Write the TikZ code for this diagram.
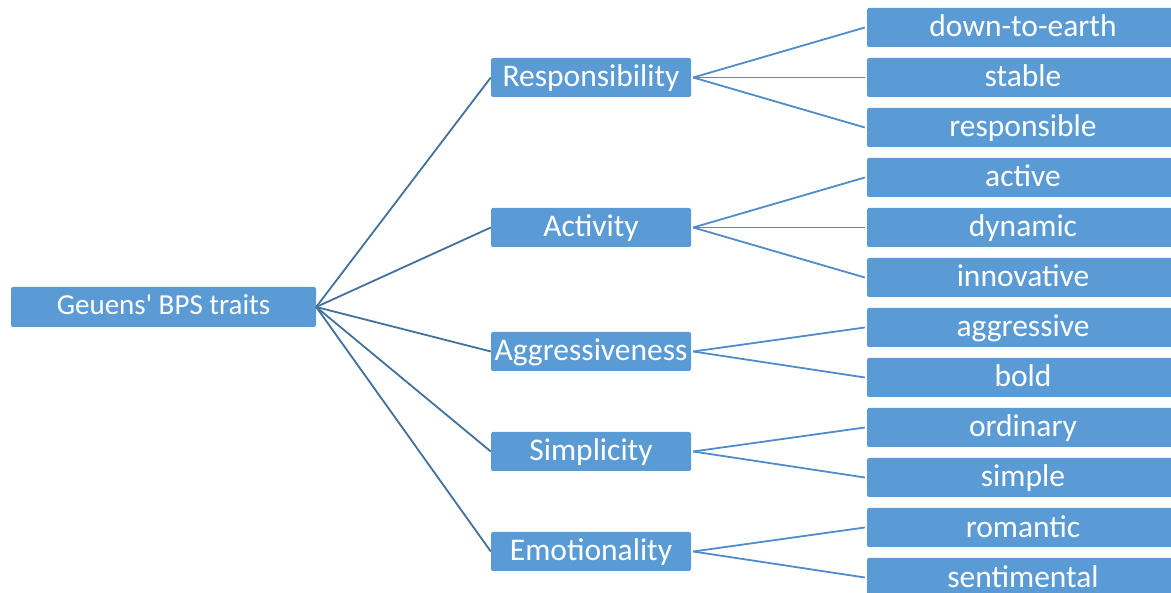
\documentclass[tikz,border=0pt]{standalone}
\usepackage{fontspec}
\setmainfont{Carlito}[Ligatures=TeXOff]
\definecolor{boxblue}{HTML}{5B9BD5}
\definecolor{rootline}{HTML}{41719C}
\definecolor{midline}{HTML}{4F8CC9}
\begin{document}
\begin{tikzpicture}[x=1pt,y=-1pt,
  box/.style={fill=boxblue,text=white,rounded corners=2pt,inner sep=0pt,font=\fontsize{31.5}{36}\selectfont,text height=24pt,text depth=5pt},
  rootbox/.style={box,minimum width=305pt,minimum height=40pt,font=\fontsize{29}{34}\selectfont,text height=22pt,text depth=6pt},
  midbox/.style={box,minimum width=200pt,minimum height=39pt},
  leafbox/.style={box,minimum width=312pt,minimum height=39pt},
  rl/.style={draw=rootline,line width=1.8pt},
  ml/.style={draw=midline,line width=1.8pt}]
\useasboundingbox (0,0) rectangle (1171,593);
\node[rootbox] (root) at (163.5,307) {Geuens' BPS traits};
\node[midbox] (m1) at (591,77.5) {Responsibility};
\node[midbox] (m2) at (591,227.5) {Activity};
\node[midbox] (m3) at (591,351.5) {Aggressiveness};
\node[midbox] (m4) at (591,451.5) {Simplicity};
\node[midbox] (m5) at (591,551.5) {Emotionality};
\foreach \n/\t [count=\i from 0] in {l1/down-to-earth,l2/stable,l3/responsible,l4/active,l5/dynamic,l6/innovative,l7/aggressive,l8/bold,l9/ordinary,l10/simple,l11/romantic,l12/sentimental}
  \node[leafbox] (\n) at (1023,27.5+50*\i) {\t};
\foreach \m in {m1,m2,m3,m4,m5} \draw[rl] (root.east) -- (\m.west);
\foreach \m/\l in {m1/l1,m1/l2,m1/l3,m2/l4,m2/l5,m2/l6,m3/l7,m3/l8,m4/l9,m4/l10,m5/l11,m5/l12}
  \draw[ml] ([xshift=2pt]\m.east) -- ([xshift=-2pt]\l.west);
\end{tikzpicture}
\end{document}
